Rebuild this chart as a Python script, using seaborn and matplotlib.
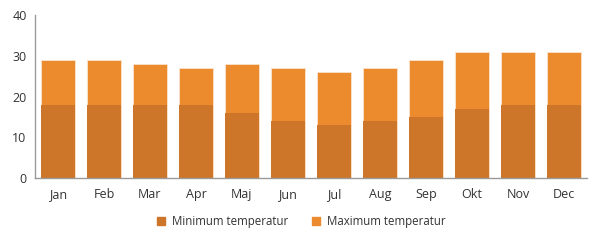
import matplotlib
matplotlib.use("Agg")
import matplotlib.pyplot as plt
import seaborn as sns
import pandas as pd
from matplotlib.patches import Patch

months = ["Jan", "Feb", "Mar", "Apr", "Maj", "Jun", "Jul", "Aug", "Sep", "Okt", "Nov", "Dec"]
min_temp = [18, 18, 18, 18, 16, 14, 13, 14, 15, 17, 18, 18]
max_temp = [29, 29, 28, 27, 28, 27, 26, 27, 29, 31, 31, 31]
series_names = ["Minimum temperatur", "Maximum temperatur"]
y_ticks = [0, 10, 20, 30, 40]

c_min = "#cd7528"
c_max = "#ec8b2e"

sns.set_theme(style="white")
plt.rcParams["font.family"] = ["Open Sans", "DejaVu Sans"]

df = pd.DataFrame({"month": months, "min": min_temp, "max": max_temp})

fig = plt.figure(figsize=(6, 2.41), dpi=100)
ax = fig.add_axes([0.0583, 0.261, 0.92, 0.677])

sns.barplot(data=df, x="month", y="max", color=c_max, saturation=1, width=0.74,
            edgecolor="#fbe3cc", linewidth=0.6, ax=ax)
sns.barplot(data=df, x="month", y="min", color=c_min, saturation=1, width=0.74,
            edgecolor="none", linewidth=0, ax=ax)

ax.set_ylim(0, 40)
ax.set_xlim(-0.5, len(months) - 0.5)
ax.set_yticks(y_ticks)
ax.set_xlabel("")
ax.set_ylabel("")
for s in ["top", "right"]:
    ax.spines[s].set_visible(False)
for s in ["left", "bottom"]:
    ax.spines[s].set_color("#9a9a9a")
    ax.spines[s].set_linewidth(1)
ax.tick_params(axis="both", length=0, labelsize=9, colors="#333333")
ax.tick_params(axis="y", pad=6)
ax.tick_params(axis="x", pad=7)

handles = [Patch(color=c_min), Patch(color=c_max)]
fig.legend(handles, series_names, loc="center", bbox_to_anchor=(0.502, 0.08), ncol=2,
           frameon=False, fontsize=8.3, handlelength=0.7, handleheight=0.7,
           columnspacing=2.0, handletextpad=0.6, labelcolor="#333333")

fig.savefig("out.png", dpi=100)
